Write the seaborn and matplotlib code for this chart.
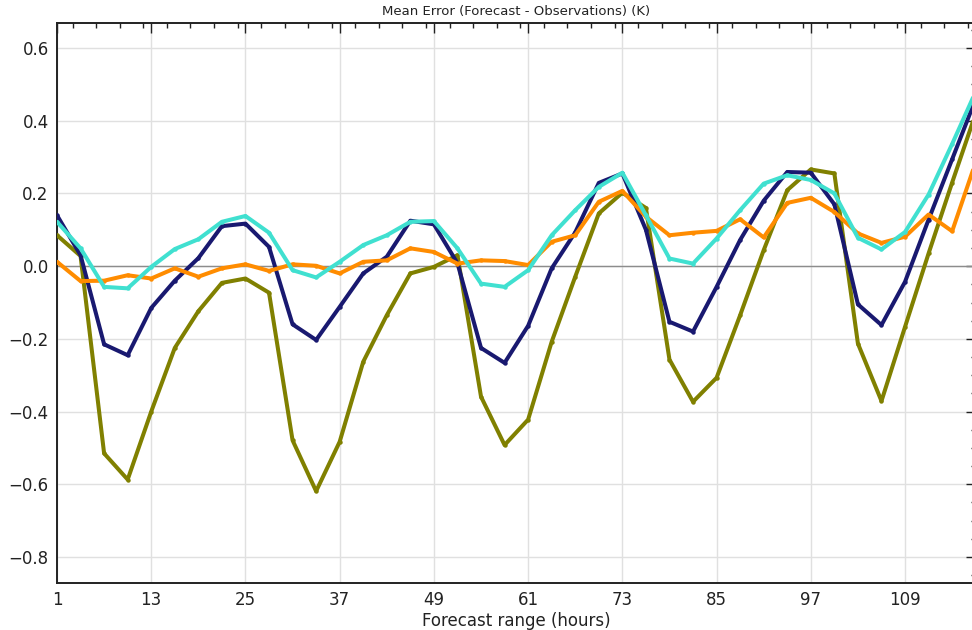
import numpy as np
import pandas as pd
import seaborn as sns
import matplotlib
matplotlib.use("Agg")
import matplotlib.pyplot as plt
from matplotlib.ticker import MultipleLocator, FixedLocator

hours = list(range(1, 119, 3))

series_navy = [0.14, 0.03, -0.215, -0.245, -0.115, -0.04, 0.022, 0.11, 0.117, 0.053,
               -0.16, -0.203, -0.112, -0.02, 0.026, 0.125, 0.115, 0.008, -0.225, -0.266,
               -0.164, -0.006, 0.093, 0.229, 0.255, 0.10, -0.153, -0.18, -0.057, 0.072,
               0.18, 0.259, 0.257, 0.17, -0.105, -0.162, -0.043, 0.128, 0.294, 0.46]
series_olive = [0.085, 0.028, -0.515, -0.587, -0.40, -0.225, -0.124, -0.046, -0.034, -0.073,
                -0.479, -0.619, -0.483, -0.263, -0.135, -0.02, -0.002, 0.03, -0.359, -0.492,
                -0.422, -0.208, -0.029, 0.145, 0.202, 0.16, -0.257, -0.373, -0.307, -0.135,
                0.044, 0.209, 0.266, 0.255, -0.213, -0.371, -0.167, 0.035, 0.23, 0.42]
series_cyan = [0.122, 0.049, -0.057, -0.061, -0.002, 0.047, 0.074, 0.122, 0.138, 0.092,
               -0.011, -0.031, 0.012, 0.058, 0.085, 0.122, 0.124, 0.049, -0.048, -0.057,
               -0.011, 0.085, 0.154, 0.218, 0.257, 0.14, 0.021, 0.007, 0.076, 0.154,
               0.227, 0.25, 0.237, 0.2, 0.078, 0.046, 0.094, 0.197, 0.336, 0.48]
series_orange = [0.012, -0.041, -0.04, -0.025, -0.034, -0.006, -0.029, -0.006, 0.005, -0.013,
                 0.005, 0.001, -0.02, 0.012, 0.016, 0.049, 0.039, 0.007, 0.016, 0.014,
                 0.003, 0.067, 0.085, 0.177, 0.207, 0.136, 0.085, 0.092, 0.097, 0.129,
                 0.079, 0.174, 0.188, 0.149, 0.09, 0.064, 0.081, 0.142, 0.096, 0.286]

series_names = ["olive", "navy", "orange", "cyan"]
series_values = [series_olive, series_navy, series_orange, series_cyan]
colors = {"olive": "#808000", "navy": "#191970", "orange": "#FF8C00", "cyan": "#40E0D0"}

xticks = [1, 13, 25, 37, 49, 61, 73, 85, 97, 109]
yticks = [-0.8, -0.6, -0.4, -0.2, 0.0, 0.2, 0.4, 0.6]

rows = []
for name, vals in zip(series_names, series_values):
    for h, v in zip(hours, vals):
        rows.append({"hour": h, "value": v, "series": name})
df = pd.DataFrame(rows)

sns.set_style("white")
plt.rcParams["font.family"] = ["DejaVu Sans"]

fig = plt.figure(figsize=(9.72, 6.3), dpi=100)
ax = fig.add_axes([57 / 972, 47 / 630, 918.7 / 972, 560 / 630])

sns.lineplot(data=df, x="hour", y="value", hue="series", hue_order=series_names,
             palette=colors, linewidth=2.9, marker="o", markersize=3.2,
             markeredgewidth=0, legend=False, ax=ax, zorder=3)

ax.axhline(0, color="#8c8c8c", linewidth=1.0, zorder=2)

ax.set_xlim(1, 118)
ax.set_ylim(-0.8715, 0.6688)
ax.xaxis.set_major_locator(FixedLocator(xticks))
ax.xaxis.set_minor_locator(MultipleLocator(3))
ax.yaxis.set_major_locator(FixedLocator(yticks))
ax.yaxis.set_minor_locator(MultipleLocator(0.05))
ax.set_xticklabels([str(t) for t in xticks])
ax.set_yticklabels(["\u22120.8", "\u22120.6", "\u22120.4", "\u22120.2", "0.0", "0.2", "0.4", "0.6"])

ax.grid(True, which="major", color="#e0e0e0", linewidth=1.0, zorder=0)
ax.tick_params(axis="both", which="major", direction="in", length=7, width=1,
               colors="#222222", labelsize=12, top=True, right=True, pad=6)
ax.tick_params(axis="both", which="minor", direction="in", length=3.5, width=1,
               colors="#222222", top=True, right=True)
for sp in ax.spines.values():
    sp.set_visible(True)
    sp.set_color("#222222")
    sp.set_linewidth(1.4)

ax.set_xlabel("Forecast range (hours)", fontsize=12, labelpad=2, color="#222222")
ax.set_ylabel("")
ax.set_title("Mean Error (Forecast - Observations) (K)", fontsize=9.5, pad=6, color="#222222")

fig.savefig("out.png", dpi=100)
